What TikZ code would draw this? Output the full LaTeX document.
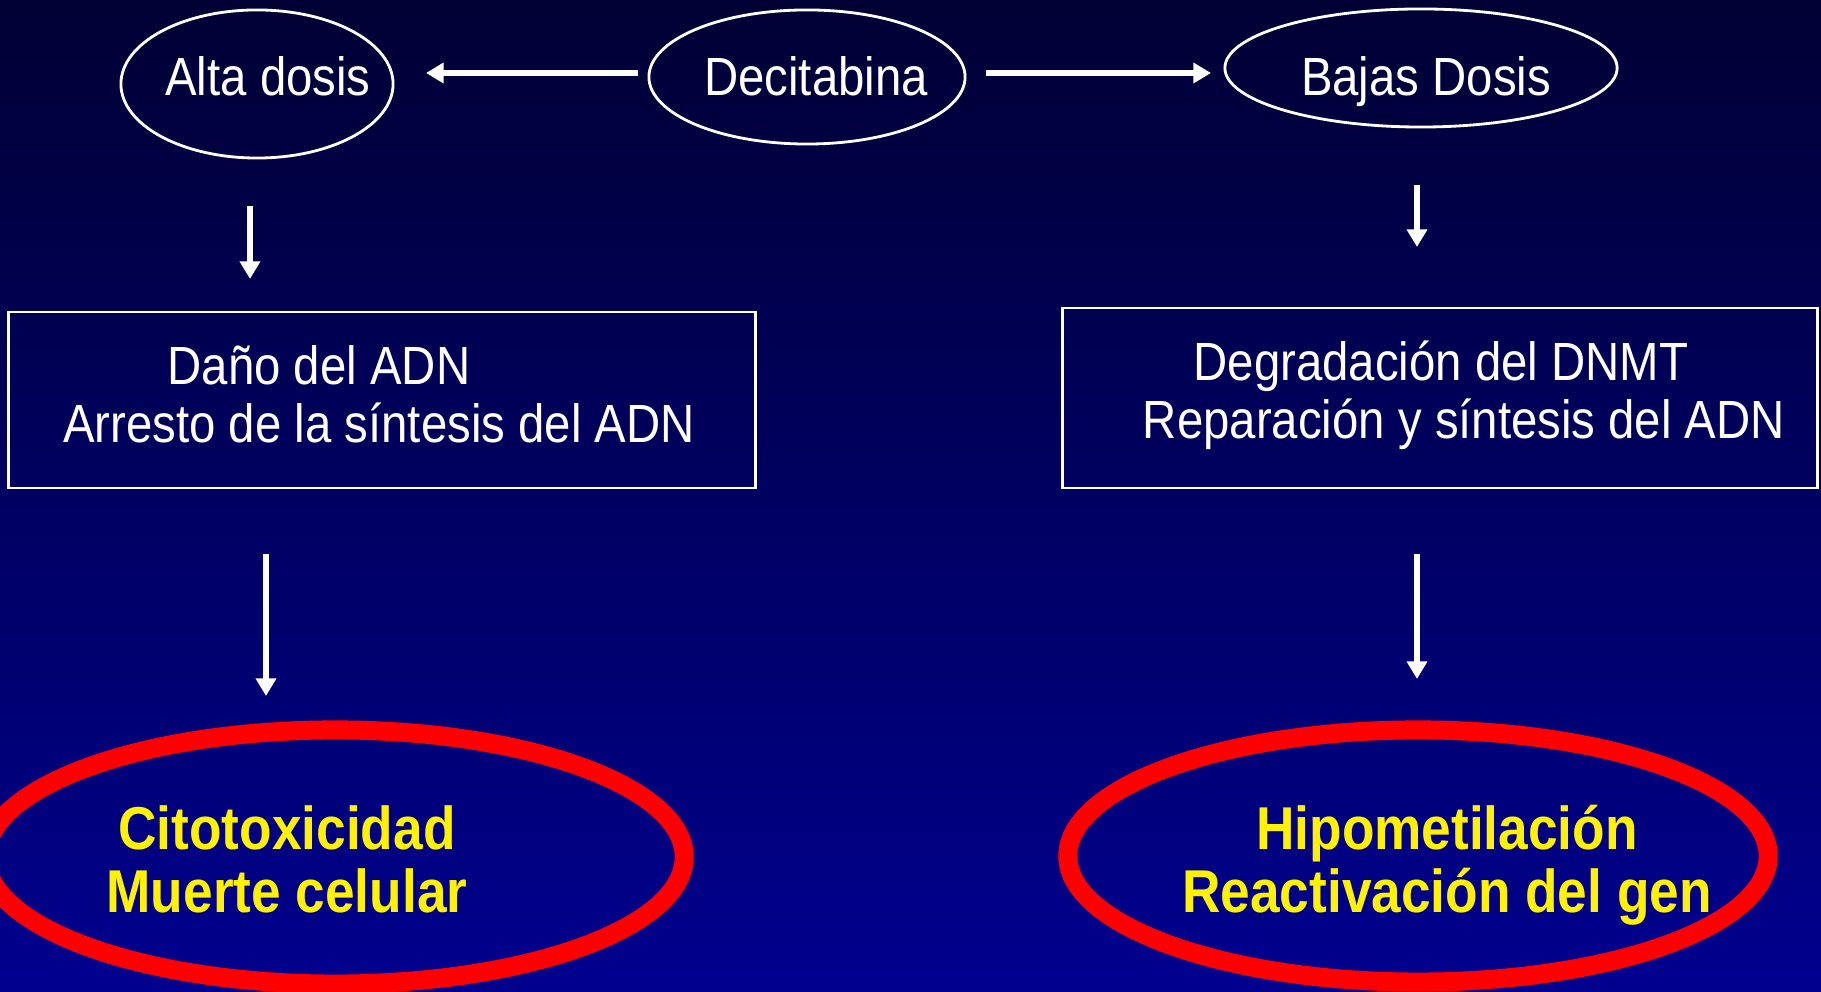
\documentclass[tikz,border=0pt]{standalone}
\usepackage{fontspec}
\setmainfont{Liberation Sans}[FakeStretch=0.88]
\usetikzlibrary{shapes,arrows.meta}
\definecolor{slidetop}{RGB}{0,0,52}
\definecolor{slidebot}{RGB}{0,0,142}

\begin{document}
\begin{tikzpicture}[x=0.01cm,y=-0.01cm,
    oval/.style={draw=white,ellipse,line width=0.8pt,inner sep=0pt},
    redoval/.style={draw=red,ellipse,line width=0.19cm,inner sep=0pt},
    rbox/.style={draw=white,rectangle,line width=0.8pt,inner sep=0pt},
    wtxt/.style={text=white,font=\fontsize{15.3}{16.5}\selectfont,align=center,inner sep=0pt},
    ytxt/.style={text=yellow,font=\bfseries\fontsize{17.2}{17.9}\selectfont,align=center,inner sep=0pt},
    arr/.style={white,line width=1.5pt,-{Triangle[width=5.6pt,length=5pt]}}]
      \useasboundingbox (0,0) rectangle (1821,992);
      \clip (0,0) rectangle (1821,992);
      \shade[top color=slidetop,bottom color=slidebot] (0,0) rectangle (1821,992);

      % top row
      \node[oval,minimum width=2.72cm,minimum height=1.48cm](alta)at(257,84){};
      \node[oval,minimum width=3.16cm,minimum height=1.34cm](deci)at(807,77){};
      \node[oval,minimum width=3.92cm,minimum height=1.18cm](bajas)at(1421,68){};
      \node[wtxt,anchor=base](altatxt)at(268,96){Alta dosis};
      \node[wtxt,anchor=base](decitxt)at(816,96){Decitabina};
      \node[wtxt,anchor=base](bajastxt)at(1426,96){Bajas Dosis};

      % boxes
      \node[rbox,minimum width=7.46cm,minimum height=1.76cm](dano)at(382,400){};
      \node[rbox,minimum width=7.55cm,minimum height=1.80cm](degra)at(1440,398){};
      \node[wtxt](danotxt)at(379,394){Da\~no del ADN\hspace*{1.2cm}\\Arresto de la s\'intesis del ADN};
      \node[wtxt](degratxt)at(1464,395){Degradaci\'on del DNMT\hspace*{0.46cm}\\Reparaci\'on y s\'intesis del ADN};

      % results
      \node[redoval,minimum width=6.98cm,minimum height=2.54cm](cito)at(335,857){};
      \node[redoval,minimum width=7.00cm,minimum height=2.52cm](hipo)at(1418,856){};
      \node[ytxt](citotxt)at(287,859){Citotoxicidad\\Muerte celular};
      \node[ytxt](hipotxt)at(1447,865){Hipometilaci\'on\\Reactivaci\'on del gen};

      \coordinate(a1)at(638,73);\coordinate(a2)at(426,73);
      \coordinate(b1)at(986,73);\coordinate(b2)at(1211,73);
      \coordinate(c1)at(250,206);\coordinate(c2)at(250,279);
      \coordinate(d1)at(1417,185);\coordinate(d2)at(1417,247);
      \coordinate(e1)at(266,554);\coordinate(e2)at(266,696);
      \coordinate(f1)at(1417,554);\coordinate(f2)at(1417,679);
      \foreach \s/\t in {a1/a2,b1/b2,c1/c2,d1/d2,e1/e2,f1/f2}{
        \draw[arr](\s)--(\t);
      }
\end{tikzpicture}
\end{document}
